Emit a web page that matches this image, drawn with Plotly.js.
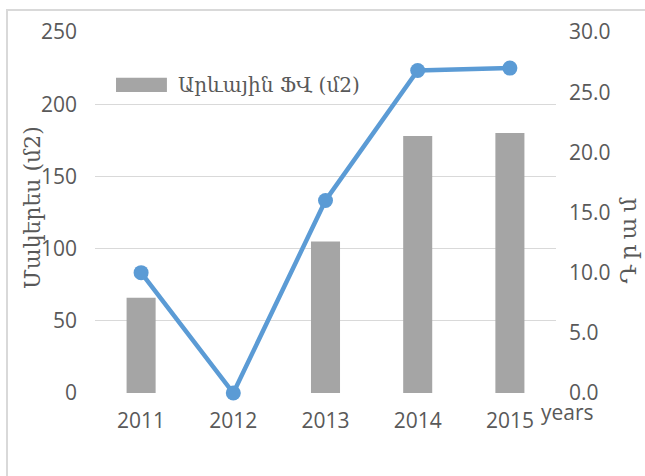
<!DOCTYPE html>
<html>
<head>
<meta charset="utf-8">
<script src="https://cdn.plot.ly/plotly-3.0.1.min.js"></script>
<style>
  html, body { margin: 0; padding: 0; background: #fff; }
  #wrap { position: relative; width: 645px; height: 476px; overflow: hidden; }
  #frame { position: absolute; left: 6px; top: 9px; width: 700px; height: 520px; border: 2px solid #d9d9d9; box-sizing: border-box; }
  #chart { position: absolute; left: 0; top: 0; width: 645px; height: 476px; }
</style>
</head>
<body>
<div id="wrap">
  <div id="frame"></div>
  <div id="chart"></div>
</div>
<script>
const years = ["2011", "2012", "2013", "2014", "2015"];
const areaValues = [66, 0, 105, 178, 180];
const amountValues = [10, 0, 16, 26.8, 27];
const areaName = "Արևային ՖՎ (մ2)";
const leftTitle = "Մակերես (մ2)";
const rightTitle = "Դրամ";
const xLabel = "years";
const leftTicks = [0, 50, 100, 150, 200, 250];
const rightTicks = [0, 5, 10, 15, 20, 25, 30];

const tickFont = { family: "Open Sans, Liberation Sans, sans-serif", size: 21, color: "#595959" };
const armFont = { family: "DejaVu Serif, serif", size: 20, color: "#595959" };

const traces = [
  {
    type: "bar", x: years, y: areaValues, name: areaName,
    marker: { color: "#a5a5a5" }, width: 0.315, showlegend: false,
    hoverinfo: "skip"
  },
  {
    type: "scatter", mode: "lines+markers", x: years, y: amountValues, yaxis: "y2",
    line: { color: "#5b9bd5", width: 4.5 }, marker: { color: "#5b9bd5", size: 15 },
    cliponaxis: false, showlegend: false, hoverinfo: "skip"
  }
];

const layout = {
  width: 645, height: 476,
  margin: { l: 95, r: 89, t: 32, b: 83 },
  paper_bgcolor: "rgba(0,0,0,0)", plot_bgcolor: "rgba(0,0,0,0)",
  showlegend: false,
  xaxis: {
    type: "category", categoryorder: "array", categoryarray: years,
    showgrid: false, zeroline: false, showline: false, ticks: "",
    tickfont: tickFont, ticklabelstandoff: 13, fixedrange: true
  },
  yaxis: {
    range: [0, 250], tickvals: leftTicks, ticktext: leftTicks.map(String),
    showgrid: true, gridcolor: "#d9d9d9", gridwidth: 1.3, zeroline: false,
    showline: false, ticks: "", tickfont: tickFont, ticklabelstandoff: 17, fixedrange: true
  },
  yaxis2: {
    overlaying: "y", side: "right", range: [0, 30],
    tickvals: rightTicks, ticktext: rightTicks.map(v => v.toFixed(1)),
    showgrid: false, zeroline: false, showline: false, ticks: "",
    tickfont: tickFont, ticklabelstandoff: 12, fixedrange: true
  },
  shapes: [
    { type: "rect", xref: "paper", yref: "paper", x0: 0.0456, x1: 0.156, y0: 0.834, y1: 0.873,
      fillcolor: "#a5a5a5", line: { width: 0 } }
  ],
  annotations: [
    { xref: "paper", yref: "paper", x: 0.176, y: 0.853, xanchor: "left", yanchor: "middle",
      text: areaName, showarrow: false, font: armFont },
    { xref: "paper", yref: "paper", x: -0.137, y: 0.515, xanchor: "center", yanchor: "middle",
      text: leftTitle, textangle: -90, showarrow: false,
      font: { family: "DejaVu Serif, serif", size: 22, color: "#595959" } },
    { xref: "paper", yref: "paper", x: 1.156, y: 0.43, xanchor: "center", yanchor: "middle",
      text: rightTitle, textangle: -90, showarrow: false,
      font: { family: "DejaVu Serif, serif", size: 23, color: "#595959" } },
    { xref: "paper", yref: "paper", x: 1.024, y: -0.054, xanchor: "center", yanchor: "middle",
      text: xLabel, showarrow: false, font: { family: "Open Sans, sans-serif", size: 21, color: "#595959" } }
  ]
};

Plotly.newPlot("chart", traces, layout, { displayModeBar: false, staticPlot: true }).then(function () {
  document.querySelectorAll("#chart .annotation-text").forEach(function (el) {
    if (el.textContent === rightTitle) {
      el.setAttribute("letter-spacing", "5px");
    }
  });
});
</script>
</body>
</html>
